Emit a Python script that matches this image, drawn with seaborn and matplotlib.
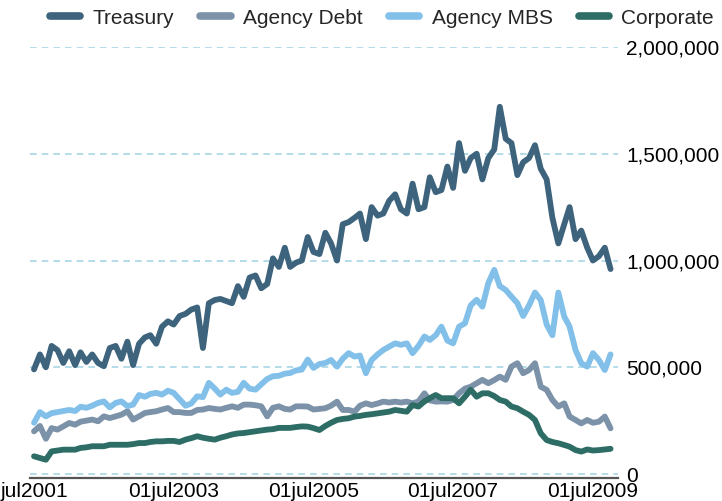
import numpy as np
import pandas as pd
import matplotlib
matplotlib.use("Agg")
import matplotlib.pyplot as plt
from matplotlib.lines import Line2D
import seaborn as sns

# ---- data (thousands, monthly from Jul 2001) ----
start = "2001-07-01"
n_months = 100
series_names = ["Treasury", "Agency Debt", "Agency MBS", "Corporate"]
series_colors = ["#3e647d", "#7b92a8", "#82c0e9", "#2d6d66"]

treasury = [490, 560, 500, 600, 580, 520, 575, 510, 570, 525,
            560, 520, 505, 590, 600, 540, 620, 510, 610, 640,
            650, 610, 690, 715, 700, 740, 750, 770, 780, 590,
            800, 815, 820, 810, 800, 880, 830, 920, 930, 870,
            890, 1010, 970, 1060, 970, 990, 1000, 1110, 1040, 1030,
            1130, 1080, 1000, 1170, 1180, 1200, 1220, 1100, 1250, 1210,
            1220, 1280, 1310, 1240, 1220, 1360, 1240, 1250, 1390, 1320,
            1330, 1440, 1340, 1550, 1420, 1480, 1500, 1380, 1480, 1520,
            1720, 1570, 1550, 1400, 1460, 1480, 1540, 1430, 1380, 1200,
            1080, 1170, 1250, 1100, 1140, 1060, 1000, 1020, 1060, 960]

agency_debt = [200, 225, 165, 215, 208, 223, 239, 231, 245, 250,
               255, 247, 270, 262, 270, 278, 294, 255, 270, 286,
               290, 294, 302, 309, 290, 290, 286, 286, 300, 302,
               309, 305, 302, 310, 317, 310, 325, 325, 322, 317,
               270, 310, 317, 305, 302, 317, 317, 316, 302, 305,
               308, 320, 339, 300, 300, 292, 320, 331, 323, 330,
               339, 335, 339, 335, 339, 331, 340, 378, 345, 339,
               340, 339, 347, 378, 400, 409, 425, 441, 425, 440,
               456, 441, 503, 519, 472, 487, 519, 409, 394, 347,
               316, 331, 269, 253, 237, 253, 240, 245, 269, 214]

agency_mbs = [240, 290, 270, 285, 290, 295, 300, 295, 315, 310,
              320, 333, 340, 312, 333, 340, 318, 325, 370, 362,
              375, 380, 372, 390, 380, 350, 320, 330, 364, 360,
              427, 400, 372, 395, 380, 385, 427, 400, 395, 420,
              445, 458, 460, 470, 473, 485, 489, 536, 497, 515,
              520, 534, 503, 540, 566, 550, 555, 472, 534, 560,
              581, 597, 612, 605, 612, 566, 600, 644, 628, 650,
              690, 625, 612, 690, 706, 790, 816, 784, 894, 956,
              880, 862, 831, 800, 740, 790, 850, 815, 700, 650,
              850, 737, 690, 581, 519, 503, 566, 534, 487, 560]

corporate = [83, 75, 67, 106, 110, 114, 114, 114, 122, 125,
             130, 130, 130, 137, 137, 137, 137, 140, 145, 145,
             150, 153, 153, 155, 155, 150, 161, 168, 177, 170,
             165, 161, 170, 177, 185, 190, 192, 196, 200, 204,
             208, 210, 216, 216, 216, 220, 223, 222, 215, 206,
             225, 240, 253, 258, 261, 269, 272, 277, 280, 284,
             288, 292, 300, 296, 292, 323, 316, 340, 355, 370,
             355, 355, 355, 331, 362, 395, 362, 378, 378, 365,
             347, 339, 316, 308, 292, 277, 253, 191, 159, 150,
             144, 136, 128, 112, 105, 115, 110, 112, 115, 118]

xtick_dates = ["2001-07-01", "2003-07-01", "2005-07-01", "2007-07-01", "2009-07-01"]
xtick_labels = ["jul2001", "01jul2003", "01jul2005", "01jul2007", "01jul2009"]
ytick_values = [0, 500000, 1000000, 1500000, 2000000]

# ---- build long frame ----
dates = pd.date_range(start, periods=n_months, freq="MS")
values = [treasury, agency_debt, agency_mbs, corporate]
df = pd.DataFrame({
    "date": np.tile(dates, len(series_names)),
    "value": np.concatenate([np.array(v, dtype=float) * 1000 for v in values]),
    "series": np.repeat(series_names, n_months),
})

sns.set_theme(style="white")
plt.rcParams["font.family"] = ["Liberation Sans", "DejaVu Sans"]

W, H = 722, 501
fig = plt.figure(figsize=(W / 100, H / 100), dpi=100)
ax = fig.add_axes([30 / W, 23 / H, 588 / W, 431 / H])

sns.lineplot(data=df, x="date", y="value", hue="series", hue_order=series_names,
             palette=series_colors, linewidth=4.2, ax=ax, legend=False,
             solid_capstyle="round", solid_joinstyle="round")

ax.set_ylim(-18700, 2000000)
ax.set_xlim(pd.Timestamp("2001-06-10"), pd.Timestamp("2009-11-09"))
ax.set_xticks([pd.Timestamp(d) for d in xtick_dates])
ax.set_xticklabels(xtick_labels)
ax.yaxis.tick_right()
ax.set_yticks(ytick_values)
ax.set_yticklabels([f"{v:,}" for v in ytick_values])
ax.set_xlabel("")
ax.set_ylabel("")

ax.set_axisbelow(True)
ax.grid(axis="y", color="#a9d6e5", linestyle=(0, (4, 3)), linewidth=1.2)
ax.grid(axis="x", visible=False)
for s in ["top", "left", "right"]:
    ax.spines[s].set_visible(False)
ax.spines["bottom"].set_color("#555555")
ax.spines["bottom"].set_linewidth(1.6)

ax.tick_params(axis="x", direction="in", length=6, width=1.2, color="#333333",
               pad=3, labelsize=15, labelcolor="black")
ax.tick_params(axis="y", length=0, pad=6, labelsize=15, labelcolor="black")

handles = [Line2D([], [], color=c, lw=5.5) for c in series_colors]
fig.legend(handles, series_names, loc="center", bbox_to_anchor=(382 / W, 1 - 18 / H),
           ncol=4, frameon=False, fontsize=15, handlelength=1.45,
           handletextpad=0.6, columnspacing=1.25)

fig.savefig("out.png", dpi=100)
